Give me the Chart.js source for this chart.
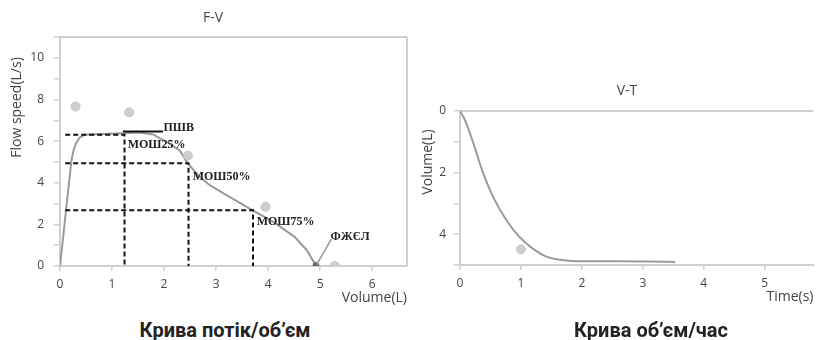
<!DOCTYPE html>
<html><head><meta charset="utf-8">
<script src="https://cdn.jsdelivr.net/npm/chart.js@4.4.1/dist/chart.umd.min.js"></script>
<style>
html,body{margin:0;padding:0;background:#fff;overflow:hidden;width:819px;height:340px;}
#c1{position:absolute;left:0;top:0;}
#c2{position:absolute;left:415px;top:0;}
.cap{position:absolute;top:317px;font-family:Roboto,sans-serif;font-weight:700;font-size:20px;color:#222;white-space:nowrap;transform:translateX(-50%);line-height:26px}
</style></head><body>
<canvas id="c1" width="426" height="310"></canvas>
<canvas id="c2" width="404" height="310"></canvas>
<div class="cap" style="left:225px">Крива потік/об’єм</div>
<div class="cap" style="left:651px">Крива об’єм/час</div>
<script>
// ---- F-V data ----
const fvVolume = [0, 0.22, 0.26, 0.31, 0.38, 0.47, 0.80, 1.21, 1.53, 1.79, 2.11, 2.30, 2.46, 2.69, 2.88, 3.20, 3.68, 4.10, 4.51, 4.74, 4.92];
const fvFlow   = [0, 5.07, 5.55, 5.90, 6.17, 6.30, 6.34, 6.38, 6.41, 6.32, 5.87, 5.55, 4.91, 4.27, 3.88, 3.40, 2.71, 2.12, 1.40, 0.77, 0.02];
const fvPredVolume = [0.30, 1.33, 2.46, 3.95, 5.28];
const fvPredFlow   = [7.66, 7.38, 5.30, 2.84, 0.00];
const mefNames  = ['МОШ25%', 'МОШ50%', 'МОШ75%'];
const mefVolume = [1.24, 2.47, 3.71];
const mefFlow   = [6.30, 4.94, 2.68];
const mefLabelVolume = [1.30, 2.55, 3.78];
const mefLabelFlow   = [5.84, 4.26, 2.11];
const dashStartVolume = 0.10;
const pefName = 'ПШВ';
const pefVolume = [1.21, 1.98];
const pefFlow = 6.46;
const pefLabelVolume = 1.99, pefLabelFlow = 6.65;
const fvcName = 'ФЖЄЛ';
const fvcVolume = 4.92, fvcFlow = 0.02;
const fvcLabelVolume = 5.20, fvcLabelFlow = 1.40;
const fvcLeaderVolume = [5.22, 4.93];
const fvcLeaderFlow   = [1.30, 0.06];
const fvXTicks = [0, 1, 2, 3, 4, 5, 6];
const fvYTickLabels = [0, 2, 4, 6, 8, 10];

// ---- V-T data ----
const vtTime   = [0, 0.08, 0.22, 0.38, 0.54, 0.76, 0.97, 1.19, 1.40, 1.67, 2.05, 2.59, 3.13, 3.53];
const vtVolume = [0, 0.29, 1.05, 2.02, 2.78, 3.54, 4.08, 4.46, 4.71, 4.84, 4.88, 4.88, 4.89, 4.90];
const vtPredTime = [1.00];
const vtPredVolume = [4.49];
const vtXTicks = [0, 1, 2, 3, 4, 5];
const vtYTickLabels = [0, 2, 4];

const pts = (xs, ys) => xs.map((x, i) => ({x, y: ys[i]}));
const TICK_FONT = {family: 'Open Sans', size: 12};
const TITLE_FONT = {family: 'Open Sans', size: 14};
const GREY = '#cfcfcf';
const TXT = '#444';

function xAxis(min, max, ticksList, title, titlePad, height) {
  return {
    type: 'linear', min, max,
    afterBuildTicks: s => { s.ticks = ticksList.map(v => ({value: v})); },
    ticks: {autoSkip: false, maxRotation: 0, color: TXT, font: TICK_FONT, padding: 6},
    grid: {drawOnChartArea: false, tickLength: 5, color: GREY, lineWidth: 1.5},
    border: {color: GREY, width: 2},
    title: {display: true, text: title, align: 'end', color: TXT, font: TITLE_FONT, padding: {top: 0, bottom: titlePad}},
    afterFit: s => { s.height = height; }
  };
}
function yAxis(min, max, labelList, reverse, pad, width) {
  const ticksList = [];
  for (let v = min; v <= max; v++) ticksList.push(v);
  return {
    type: 'linear', min, max, reverse,
    afterBuildTicks: s => { s.ticks = ticksList.map(v => ({value: v})); },
    ticks: {autoSkip: false, color: TXT, font: TICK_FONT, padding: pad,
            callback: v => labelList.includes(v) ? String(v) : ''},
    grid: {drawOnChartArea: false, tickLength: 6, color: GREY, lineWidth: 1.5},
    border: {color: GREY, width: 2},
    afterFit: s => { s.width = width; }
  };
}

const decor = {
  id: 'decor',
  beforeDatasetsDraw(chart, args, o) {
    const {ctx, chartArea: a} = chart;
    ctx.save();
    ctx.strokeStyle = GREY; ctx.lineWidth = 2;
    ctx.beginPath();
    ctx.moveTo(a.left, a.top); ctx.lineTo(a.right, a.top);
    if (o.rightBorder) { ctx.moveTo(a.right, a.top); ctx.lineTo(a.right, a.bottom); }
    ctx.stroke();
    ctx.restore();
  },
  afterDraw(chart, args, o) {
    const {ctx, scales: {x, y}} = chart;
    ctx.save();
    (o.labels || []).forEach(l => {
      ctx.font = 'bold 12px "Liberation Serif", serif';
      ctx.fillStyle = '#222';
      ctx.textAlign = 'left'; ctx.textBaseline = 'middle';
      ctx.fillText(l.text, x.getPixelForValue(l.x), y.getPixelForValue(l.y));
    });
    if (o.yTitle) {
      ctx.font = '14px "Open Sans"';
      ctx.fillStyle = TXT;
      ctx.textAlign = 'center'; ctx.textBaseline = 'middle';
      ctx.translate(o.yTitle.cx, o.yTitle.cy);
      ctx.rotate(-Math.PI / 2);
      ctx.fillText(o.yTitle.text, 0, 0);
    }
    ctx.restore();
  }
};

const lineDs = (data, color, width, dash) => ({
  data, showLine: true, borderColor: color, borderWidth: width, borderDash: dash || [],
  pointRadius: 0, fill: false, tension: 0
});
const predDs = data => ({
  data, showLine: false, pointRadius: 4.5, pointBackgroundColor: '#cfcfcf', pointBorderColor: '#c4c4c4',
  pointBorderWidth: 1, clip: 0
});

const fvDatasets = [];
mefVolume.forEach((v, i) => {
  fvDatasets.push(lineDs([{x: dashStartVolume, y: mefFlow[i]}, {x: v, y: mefFlow[i]}, {x: v, y: 0}], '#111', 2, [5, 3]));
});
fvDatasets.push(lineDs(pts(pefVolume, [pefFlow, pefFlow]), '#111', 2));
fvDatasets.push(lineDs(pts(fvcLeaderVolume, fvcLeaderFlow), '#9a9a9a', 1.5));
fvDatasets.push({data: [{x: fvcVolume, y: fvcFlow}], showLine: false, pointRadius: 3, pointBackgroundColor: '#666', pointBorderColor: '#666', clip: 0});
fvDatasets.push(predDs(pts(fvPredVolume, fvPredFlow)));
fvDatasets.push(lineDs(pts(fvVolume, fvFlow), '#9a9a9a', 2));

const fvLabels = [{text: pefName, x: pefLabelVolume, y: pefLabelFlow}]
  .concat(mefNames.map((n, i) => ({text: n, x: mefLabelVolume[i], y: mefLabelFlow[i]})))
  .concat([{text: fvcName, x: fvcLabelVolume, y: fvcLabelFlow}]);

new Chart(document.getElementById('c1'), {
  type: 'scatter',
  data: {datasets: fvDatasets},
  options: {
    responsive: false, animation: false, devicePixelRatio: 1,
    layout: {padding: {left: 19, right: 19, top: 0, bottom: 0}},
    scales: {
      x: xAxis(0, 6.67, fvXTicks, 'Volume(L)', 3.6, 44),
      y: yAxis(0, 11, fvYTickLabels, false, 10, 41)
    },
    plugins: {
      legend: {display: false}, tooltip: {enabled: false},
      title: {display: true, text: 'F-V', color: TXT, font: {family: 'Open Sans', size: 14, weight: 'normal'}, padding: {top: 9.6, bottom: 10.6}},
      decor: {rightBorder: true, labels: fvLabels, yTitle: {text: 'Flow speed(L/s)', cx: 17, cy: 107.5}}
    }
  },
  plugins: [decor]
});

new Chart(document.getElementById('c2'), {
  type: 'scatter',
  data: {datasets: [
    predDs(pts(vtPredTime, vtPredVolume)),
    Object.assign(lineDs(pts(vtTime, vtVolume), '#9a9a9a', 2), {cubicInterpolationMode: 'monotone'})
  ]},
  options: {
    responsive: false, animation: false, devicePixelRatio: 1,
    layout: {padding: {left: 20, right: 0, top: 0, bottom: 0}},
    scales: {
      x: xAxis(0, 5.8, vtXTicks, 'Time(s)', 4.6, 45),
      y: yAxis(0, 5, vtYTickLabels, true, 8, 25)
    },
    plugins: {
      legend: {display: false}, tooltip: {enabled: false},
      title: {display: true, text: 'V-T', color: TXT, font: {family: 'Open Sans', size: 14, weight: 'normal'}, padding: {top: 82.6, bottom: 11.6}},
      decor: {rightBorder: false, labels: [], yTitle: {text: 'Volume(L)', cx: 13, cy: 162}}
    }
  },
  plugins: [decor]
});
</script>
</body></html>
